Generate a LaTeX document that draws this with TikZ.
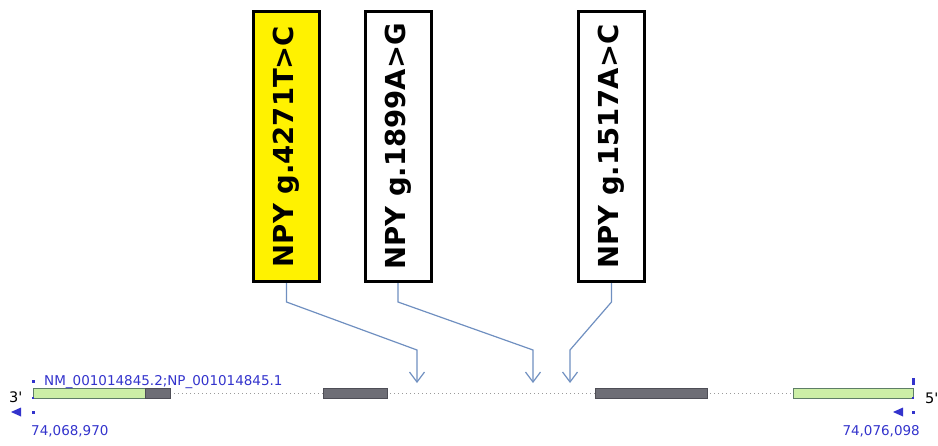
\documentclass[tikz,border=0pt]{standalone}
\usepackage{fontspec}
\setmainfont{DejaVu Sans}
\newfontfamily\endfont{DejaVu Sans}
\usetikzlibrary{arrows.meta}
\definecolor{conn}{HTML}{6F8FC0}
\definecolor{lbl}{HTML}{3333CC}
\definecolor{utr}{HTML}{CCEFA6}
\definecolor{utredge}{HTML}{5E7E66}
\definecolor{cds}{HTML}{6E6E76}
\definecolor{cdsedge}{HTML}{4E4E56}
\definecolor{intron}{HTML}{9A9A9A}
\begin{document}
\begin{tikzpicture}[x=1pt,y=-1pt,
  vbox/.style={draw=black, line width=3pt, minimum width=66pt, minimum height=270pt, inner sep=0pt, font=\fontsize{27.5}{27.5}\selectfont\bfseries},
  connector/.style={draw=conn, line width=1.2pt, -{Straight Barb[length=10pt,width=15pt]}},
  utrbox/.style={fill=utr, draw=utredge, line width=0.8pt},
  cdsbox/.style={fill=cds, draw=cdsedge, line width=0.8pt},
  smalltxt/.style={text=lbl, font=\fontsize{13.5}{14}\selectfont, inner sep=0pt},
  endtxt/.style={text=black, font=\endfont\fontsize{14.5}{15}\selectfont, inner sep=0pt}]
\useasboundingbox (0,0) rectangle (938,445);

% variant boxes
\node[vbox, fill=yellow] (b1) at (286.5,146.5) {\rotatebox{90}{NPY g.4271T>C}};
\node[vbox, fill=white] (b2) at (398,146.5) {\rotatebox{90}{NPY g.1899A>G}};
\node[vbox, fill=white] (b3) at (611.5,146.5) {\rotatebox{90}{NPY g.1517A>C}};

% arrow targets
\coordinate (a1) at (417,383);
\coordinate (a2) at (533,383);
\coordinate (a3) at (570,383);

\draw[connector] (b1.south) -- ++(0,19) -- (417,350) -- (a1);
\draw[connector] (b2.south) -- ++(0,19) -- (533,350) -- (a2);
\draw[connector] (b3.south) -- ++(0,19) -- (570,350) -- (a3);

% gene model
\draw[intron, line width=0.7pt, dash pattern=on 1pt off 3pt] (170,393) -- (793,393);
\draw[utrbox] (33,388) rectangle (145,398);
\draw[cdsbox] (145,388) rectangle (170,398);
\draw[cdsbox] (323,388) rectangle (387,398);
\draw[cdsbox] (595,388) rectangle (707,398);
\draw[utrbox] (793,388) rectangle (913,398);

% markers
\fill[lbl] (31.5,379.5) rectangle (34.5,382.5);
\fill[lbl] (31.5,410.5) rectangle (34.5,413.5);
\fill[lbl] (32,397) rectangle (34,399);
\fill[lbl] (911.5,377.5) rectangle (914.5,384.5);
\fill[lbl] (911.5,410.5) rectangle (914.5,413.5);
\fill[lbl] (912,397) rectangle (914,399);
\fill[lbl] (11,412) -- (21,407.5) -- (21,416.5) -- cycle;
\fill[lbl] (893,412) -- (903,407.5) -- (903,416.5) -- cycle;

% labels
\node[smalltxt, anchor=base west] (tr) at (44,385) {NM\_001014845.2;NP\_001014845.1};
\node[smalltxt, anchor=base west] (p1) at (31,435) {74,068,970};
\node[smalltxt, anchor=base east] (p2) at (920,435) {74,076,098};
\node[endtxt, anchor=base west] (e3) at (9,402) {3'};
\node[endtxt, anchor=base west] (e5) at (925,403) {5'};
\end{tikzpicture}
\end{document}
